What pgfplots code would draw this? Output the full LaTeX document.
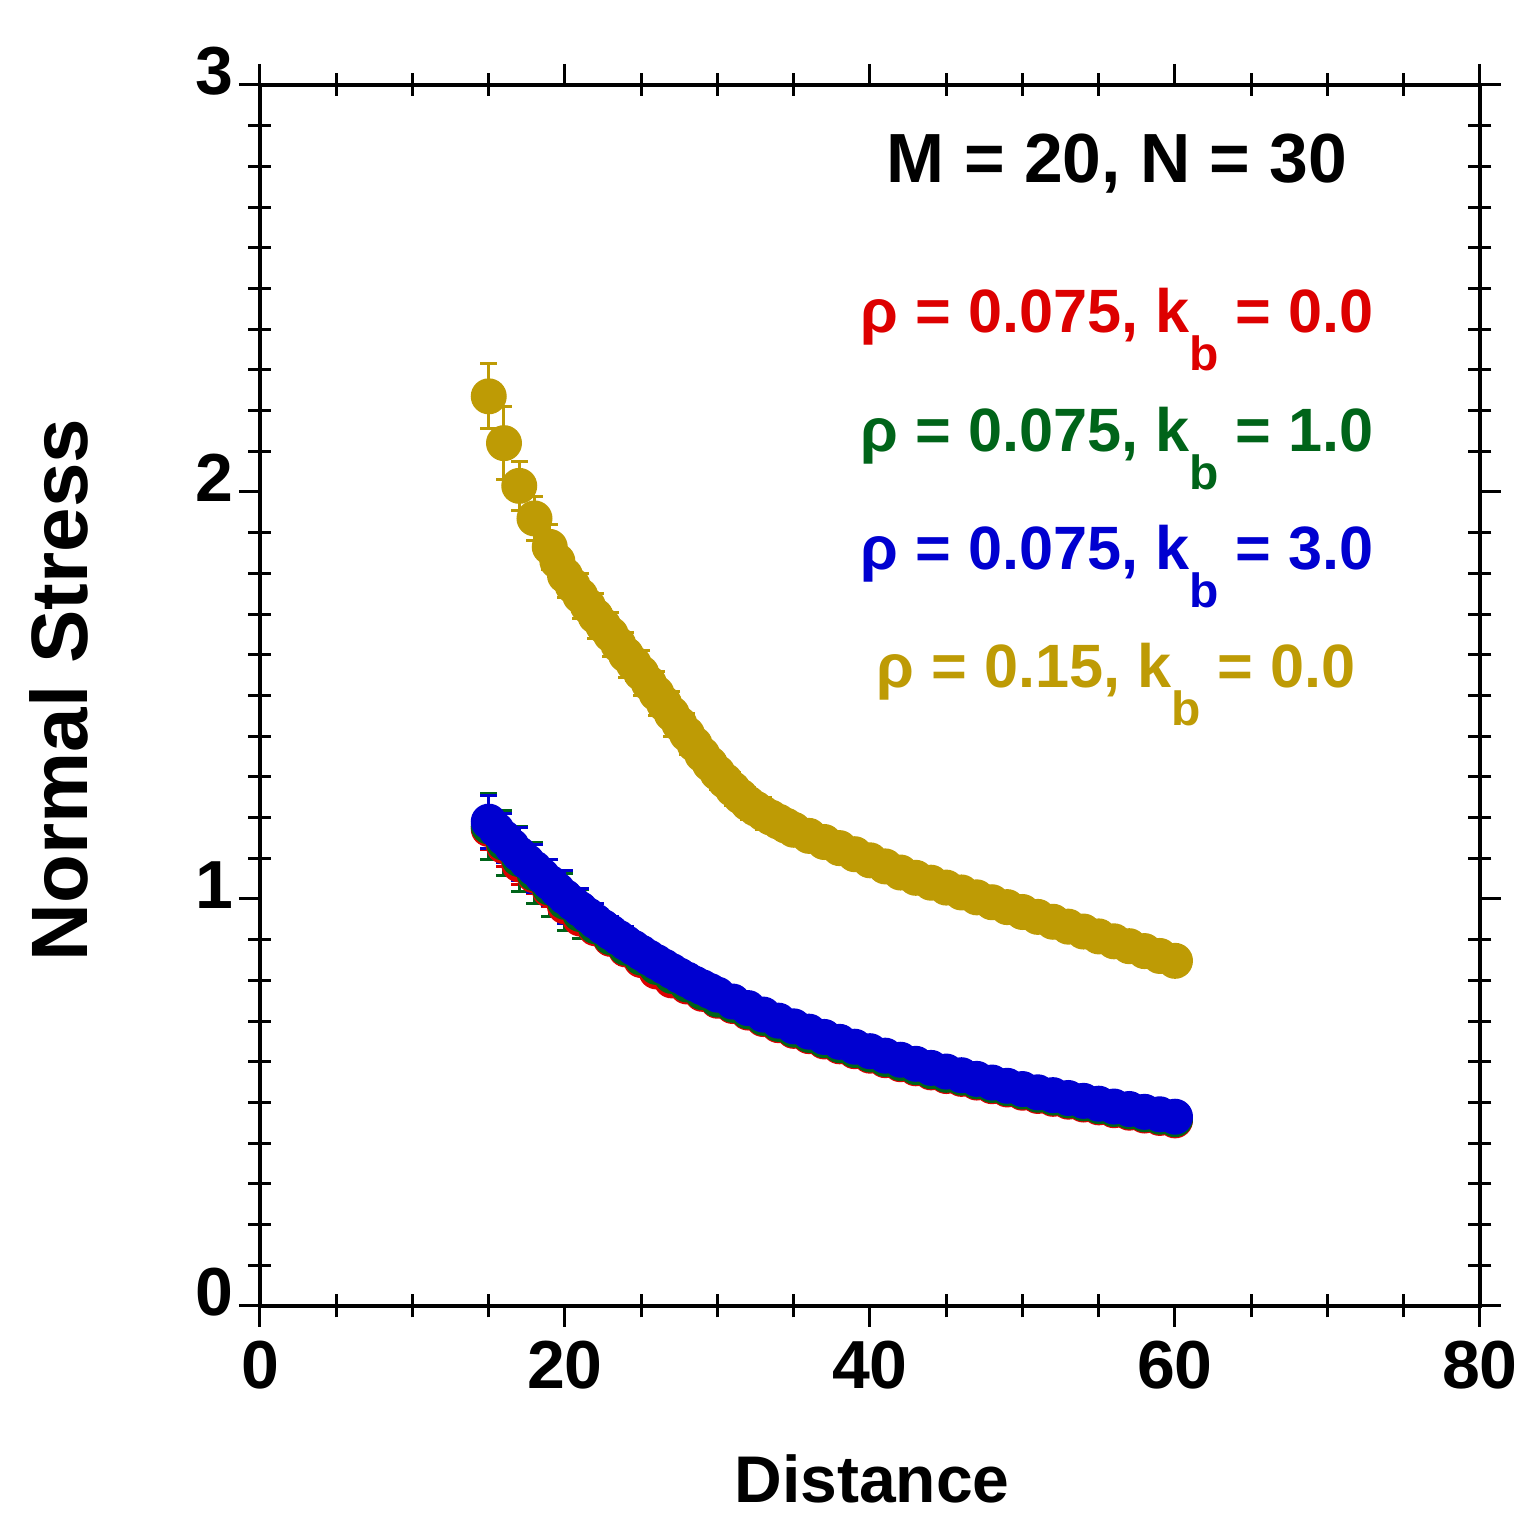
\documentclass[border=0pt]{standalone}
\usepackage{fontspec}
\setmainfont{Liberation Sans}
\usepackage{pgfplots}
\usepackage{pgfplotstable}
\pgfplotsset{compat=1.18}
\definecolor{cred}{RGB}{221,0,0}
\definecolor{cgreen}{RGB}{0,100,25}
\definecolor{cblue}{RGB}{0,0,208}
\definecolor{cgold}{RGB}{190,155,5}

\pgfplotstableread{
x y e
15 1.172 0.05
16 1.130 0.05
17 1.085 0.05
18 1.058 0.045
19 1.022 0.04
20 0.982 0.04
21 0.952 0.035
22 0.928 0.03
23 0.902 0.03
24 0.876 0.03
25 0.850 0.03
26 0.822 0.03
27 0.800 0.03
28 0.785 0.025
29 0.767 0.025
30 0.750 0.02
31 0.737 0.02
32 0.721 0.02
33 0.705 0.02
34 0.690 0.02
35 0.676 0.02
36 0.663 0.02
37 0.650 0.02
38 0.638 0.02
39 0.626 0.02
40 0.615 0.02
41 0.604 0.02
42 0.594 0.02
43 0.584 0.02
44 0.574 0.02
45 0.565 0.02
46 0.558 0.02
47 0.549 0.02
48 0.540 0.02
49 0.532 0.02
50 0.524 0.02
51 0.516 0.02
52 0.509 0.02
53 0.502 0.02
54 0.495 0.02
55 0.488 0.02
56 0.481 0.02
57 0.475 0.02
58 0.468 0.02
59 0.462 0.02
60 0.456 0.02
}\redtab

\pgfplotstableread{
x y e
15 1.178 0.08
16 1.138 0.08
17 1.098 0.08
18 1.063 0.075
19 1.028 0.07
20 0.993 0.07
21 0.963 0.06
22 0.933 0.04
23 0.906 0.04
24 0.880 0.04
25 0.856 0.04
26 0.833 0.04
27 0.811 0.04
28 0.790 0.04
29 0.771 0.04
30 0.753 0.04
31 0.740 0.02
32 0.724 0.02
33 0.708 0.02
34 0.693 0.02
35 0.679 0.02
36 0.666 0.02
37 0.653 0.02
38 0.641 0.02
39 0.629 0.02
40 0.618 0.02
41 0.607 0.02
42 0.597 0.02
43 0.587 0.02
44 0.577 0.02
45 0.568 0.02
46 0.561 0.02
47 0.552 0.02
48 0.543 0.02
49 0.535 0.02
50 0.527 0.02
51 0.519 0.02
52 0.512 0.02
53 0.505 0.02
54 0.498 0.02
55 0.491 0.02
56 0.484 0.02
57 0.478 0.02
58 0.471 0.02
59 0.465 0.02
60 0.459 0.02
}\greentab

\pgfplotstableread{
x y e
15 1.190 0.065
15.5 1.170 0.04
16 1.150 0.06
16.5 1.130 0.04
17 1.110 0.065
17.5 1.092 0.04
18 1.075 0.06
18.5 1.057 0.04
19 1.040 0.056
19.5 1.022 0.04
20 1.005 0.065
20.5 0.990 0.03
21 0.975 0.05
21.5 0.960 0.03
22 0.945 0.045
22.5 0.931 0.03
23 0.918 0.04
23.5 0.905 0.03
24 0.892 0.04
24.5 0.880 0.03
25 0.868 0.035
25.5 0.856 0.03
26 0.845 0.035
26.5 0.834 0.03
27 0.823 0.03
27.5 0.812 0.03
28 0.802 0.03
28.5 0.792 0.03
29 0.783 0.03
29.5 0.774 0.03
30 0.765 0.03
31 0.748 0.02
32 0.732 0.02
33 0.716 0.02
34 0.701 0.02
35 0.687 0.02
36 0.674 0.02
37 0.661 0.02
38 0.649 0.02
39 0.637 0.02
40 0.626 0.02
41 0.615 0.02
42 0.605 0.02
43 0.595 0.02
44 0.585 0.02
45 0.576 0.02
46 0.567 0.02
47 0.558 0.02
48 0.549 0.02
49 0.541 0.02
50 0.533 0.02
51 0.525 0.02
52 0.518 0.02
53 0.511 0.02
54 0.504 0.02
55 0.497 0.02
56 0.490 0.02
57 0.484 0.02
58 0.477 0.02
59 0.471 0.02
60 0.465 0.02
}\bluetab

\pgfplotstableread{
x y e
15 2.235 0.08
16 2.120 0.09
17 2.015 0.06
18 1.935 0.055
19 1.865 0.055
19.5 1.830 0.04
20 1.795 0.055
20.5 1.770 0.04
21 1.745 0.055
21.5 1.720 0.04
22 1.695 0.055
22.5 1.672 0.04
23 1.650 0.055
23.5 1.625 0.04
24 1.600 0.055
24.5 1.578 0.04
25 1.555 0.055
25.5 1.530 0.04
26 1.505 0.055
26.5 1.480 0.04
27 1.455 0.055
27.5 1.430 0.04
28 1.405 0.05
28.5 1.380 0.04
29 1.355 0.04
29.5 1.332 0.03
30 1.310 0.04
30.5 1.290 0.03
31 1.270 0.04
31.5 1.252 0.03
32 1.235 0.04
32.5 1.222 0.03
33 1.210 0.04
33.5 1.200 0.03
34 1.190 0.03
34.5 1.180 0.03
35 1.170 0.03
36 1.155 0.03
37 1.140 0.03
38 1.125 0.03
39 1.110 0.03
40 1.095 0.03
41 1.080 0.03
42 1.065 0.03
43 1.052 0.03
44 1.040 0.03
45 1.028 0.03
46 1.016 0.03
47 1.004 0.03
48 0.992 0.03
49 0.980 0.03
50 0.968 0.03
51 0.956 0.03
52 0.944 0.03
53 0.932 0.03
54 0.920 0.03
55 0.908 0.03
56 0.896 0.03
57 0.884 0.03
58 0.872 0.03
59 0.860 0.03
60 0.848 0.03
}\goldtab

\pgfplotsset{
  common/.style={scale only axis, width=305pt, height=305.25pt,
    xmin=0, xmax=80, ymin=0, ymax=3,
    axis line style={line width=0.8pt, black},
    tick style={black, line width=0.75pt},
    minor tick num=0},
  ser/.style={only marks, mark=*, mark size=4.25pt,
    mark options={fill=#1, draw=#1, line width=0.5pt},
    error bars/.cd, y dir=both, y explicit,
    error bar style={line width=0.75pt, #1},
    error mark options={rotate=90, #1, line width=0.75pt, mark size=2.1pt}},
}

\begin{document}
\begin{tikzpicture}
\begin{axis}[common,
  xtick={5,10,15,25,30,35,45,50,55,65,70,75},
  ytick={0.1,0.2,0.3,0.4,0.5,0.6,0.7,0.8,0.9,1.1,1.2,1.3,1.4,1.5,1.6,1.7,1.8,1.9,2.1,2.2,2.3,2.4,2.5,2.6,2.7,2.8,2.9},
  tick align=center, major tick length=5.75pt,
  xticklabels={}, yticklabels={}]
\end{axis}
\begin{axis}[common,
  xtick={0,20,40,60,80}, ytick={0,1,2,3},
  tick align=outside, major tick length=5.25pt,
  /pgf/number format/assume math mode=true,
  ticklabel style={font=\fontsize{17}{17}\selectfont\bfseries},
  yticklabel style={xshift=2pt, yshift=3.5pt}]
\addplot[ser=cred] table[x=x, y=y, y error=e] {\redtab};
\addplot[ser=cgreen] table[x=x, y=y, y error=e] {\greentab};
\addplot[ser=cblue] table[x=x, y=y, y error=e] {\bluetab};
\addplot[ser=cgold] table[x=x, y=y, y error=e] {\goldtab};
\end{axis}
\node[anchor=base, font=\fontsize{16.5}{16.5}\selectfont\bfseries] at (153pt,-49.25pt) {Distance};
\node[anchor=base, rotate=90, font=\fontsize{20}{20}\selectfont\bfseries] at (-43pt,154pt) {Normal Stress};
\node[anchor=base, font=\fontsize{17.4}{17.4}\selectfont\bfseries] at (214.25pt,280.75pt) {M = 20, N = 30};
\node[anchor=base, text=cred, font=\fontsize{15.3}{15.3}\selectfont\bfseries] at (214.25pt,243.25pt) {ρ = 0.075, k\raisebox{-9.5pt}{\fontsize{12}{12}\selectfont b} = 0.0};
\node[anchor=base, text=cgreen, font=\fontsize{15.3}{15.3}\selectfont\bfseries] at (214.25pt,213.5pt) {ρ = 0.075, k\raisebox{-9.5pt}{\fontsize{12}{12}\selectfont b} = 1.0};
\node[anchor=base, text=cblue, font=\fontsize{15.3}{15.3}\selectfont\bfseries] at (214.25pt,184pt) {ρ = 0.075, k\raisebox{-9.5pt}{\fontsize{12}{12}\selectfont b} = 3.0};
\node[anchor=base, text=cgold, font=\fontsize{15.3}{15.3}\selectfont\bfseries] at (214pt,154.5pt) {ρ = 0.15, k\raisebox{-9.5pt}{\fontsize{12}{12}\selectfont b} = 0.0};
\pgfresetboundingbox
\path (-65pt,-55pt) rectangle (318pt,326.5pt);
\end{tikzpicture}
\end{document}
